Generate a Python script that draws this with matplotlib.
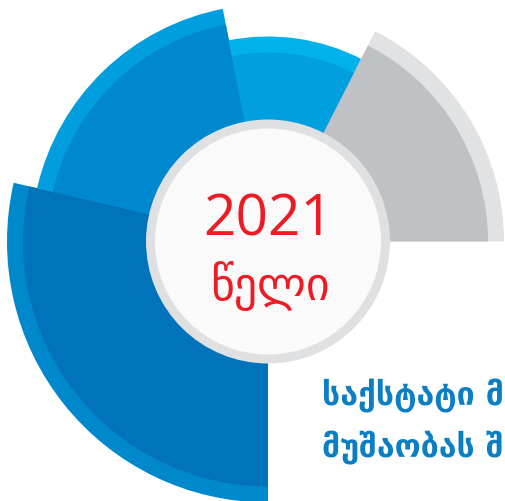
import matplotlib.pyplot as plt
from matplotlib.patches import Wedge, Circle, Rectangle

# wedge data (degrees, counter-clockwise from east) and outer radii in px
labels = ["grey", "light", "medium", "dark"]
start_deg = [0, 63, 101, 167]
end_deg = [63, 101, 167, 270]
outer_r = [236, 205, 237, 261]
band = 16

outer_colors = ["#e1e2e4", "#00b1ec", "#009edf", "#0088cc"]
inner_colors = ["#c0c1c4", "#00a0df", "#0088cf", "#0073bb"]

year_text = "2021"
year_word = "წელი"
caption_lines = ["საქსტატი მ", "მუშაობას შ"]

W, H = 505, 501
CX, CY = 268, H - 241.5
RING_R, DISC_R = 122, 113


def main() -> None:
    fig = plt.figure(figsize=(W / 100, H / 100), dpi=100)
    ax = fig.add_axes([0, 0, 1, 1])
    ax.set_xlim(0, W)
    ax.set_ylim(0, H)
    ax.axis("off")

    for a0, a1, r, c_out, c_in in zip(start_deg, end_deg, outer_r, outer_colors, inner_colors):
        ax.add_patch(Wedge((CX, CY), r, a0, a1, facecolor=c_out, edgecolor="none"))
        ax.add_patch(Wedge((CX, CY), r - band, a0, a1, facecolor=c_in, edgecolor="none"))

    ax.add_patch(Circle((CX, CY), RING_R, facecolor="#dfe0e2", edgecolor="none"))
    ax.add_patch(Circle((CX, CY), DISC_R, facecolor="#fafafa", edgecolor="none"))

    ax.text(CX, H - 235, year_text, ha="center", va="baseline", fontsize=41,
            color="#ed1c24", family=["Open Sans", "DejaVu Sans"])
    word = ax.text(CX + 2, H - 300, year_word, ha="center", va="baseline", fontsize=33,
                   color="#ed1c24", family=["DejaVu Sans"])
    clip = Rectangle((0, H - 294), W, 294, transform=ax.transData)
    word.set_clip_path(clip)

    for i, line in enumerate(caption_lines):
        ax.text(322, H - 405 - i * 52, line, ha="left", va="baseline", fontsize=23,
                fontweight="bold", color="#0b7fc3", family=["DejaVu Sans"])

    fig.savefig("out.png", dpi=100, facecolor="white")
    plt.close(fig)


if __name__ == "__main__":
    main()
